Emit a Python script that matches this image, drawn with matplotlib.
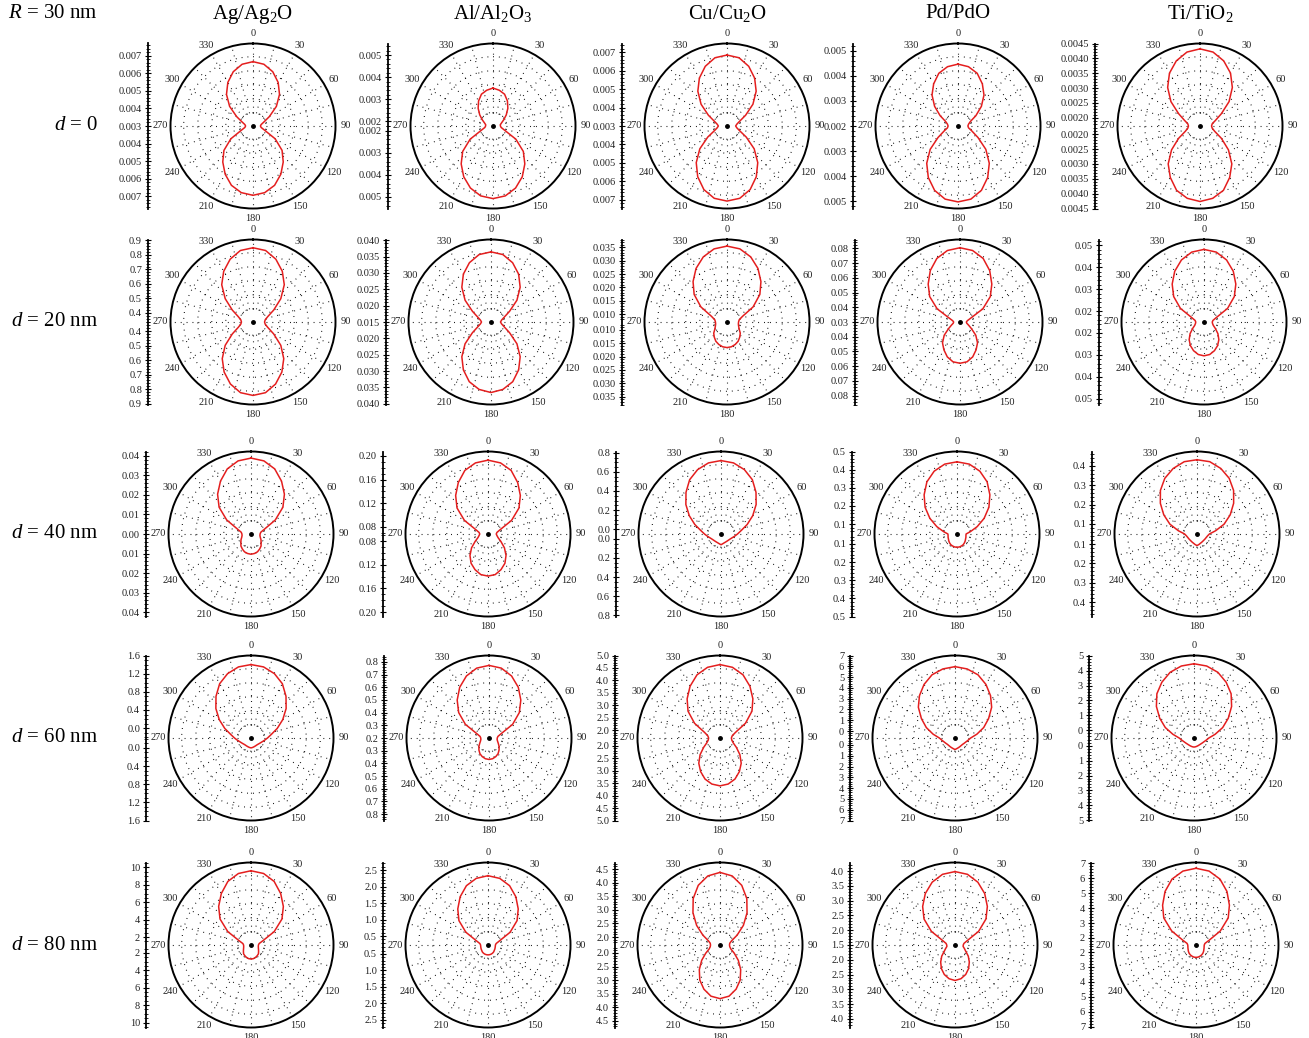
import numpy as np
import matplotlib
matplotlib.use("Agg")
import matplotlib.pyplot as plt

plt.rcParams['font.family'] = ['Liberation Serif', 'DejaVu Serif']
plt.rcParams['mathtext.fontset'] = 'custom'
plt.rcParams['mathtext.rm'] = 'Liberation Serif'
plt.rcParams['mathtext.it'] = 'Liberation Serif:italic'

W, H = 1309, 1038

materials = ['Ag/Ag$_2$O', 'Al/Al$_2$O$_3$', 'Cu/Cu$_2$O', 'Pd/PdO', 'Ti/TiO$_2$']
distances = ['0', '20 nm', '40 nm', '60 nm', '80 nm']

# sample angles (deg, 0 = up, clockwise); patterns are mirror symmetric so only 0..180 is stored
angles = np.arange(0, 190, 10)

# radial pattern as a fraction of the plot radius
ag_d0 = [.78, .76, .70, .61, .50, .37, .23, .14, .10, .09, .10, .15, .31, .46, .57, .675, .765, .82, .84]
al_d0 = [.46, .44, .41, .35, .28, .21, .15, .11, .09, .09, .10, .15, .32, .48, .60, .71, .80, .86, .88]
cu_d0 = [.86, .84, .77, .67, .55, .41, .26, .16, .12, .105, .12, .16, .27, .43, .58, .71, .82, .89, .91]
pd_d0 = [.75, .73, .68, .59, .49, .37, .25, .16, .13, .12, .13, .18, .28, .44, .59, .72, .83, .90, .92]
ti_d0 = [.935, .91, .84, .74, .61, .46, .30, .20, .15, .14, .15, .19, .30, .45, .60, .72, .83, .89, .915]

ag_d20 = [.90, .88, .81, .71, .59, .44, .29, .19, .15, .14, .15, .19, .29, .44, .58, .70, .80, .87, .89]
al_d20 = [.85, .83, .765, .67, .55, .41, .26, .17, .13, .115, .13, .17, .26, .41, .55, .67, .77, .83, .855]
cu_d20 = [.92, .90, .84, .75, .64, .52, .365, .20, .15, .14, .14, .15, .17, .21, .24, .27, .29, .305, .31]
pd_d20 = [.90, .88, .82, .72, .60, .48, .32, .14, .09, .077, .083, .11, .16, .25, .33, .39, .45, .49, .50]
ti_d20 = [.88, .86, .80, .71, .60, .48, .33, .16, .11, .10, .105, .12, .16, .22, .28, .33, .37, .40, .41]

ag_d40 = [.92, .90, .84, .74, .63, .505, .34, .175, .12, .11, .11, .12, .14, .16, .19, .21, .23, .24, .245]
al_d40 = [.895, .875, .82, .72, .61, .49, .33, .16, .11, .10, .11, .13, .18, .26, .34, .41, .46, .50, .51]
cu_d40 = [.89, .875, .83, .76, .66, .556, .444, .338, .25, .20, .165, .14, .125, .117, .113, .112, .114, .12, .13]
pd_d40 = [.875, .86, .81, .73, .62, .505, .38, .26, .165, .11, .11, .115, .12, .13, .14, .15, .155, .16, .16]
ti_d40 = [.90, .89, .845, .78, .69, .58, .465, .35, .23, .15, .13, .12, .115, .112, .112, .115, .12, .13, .14]

ag_d60 = [.89, .875, .83, .76, .66, .556, .444, .338, .25, .20, .165, .14, .125, .115, .11, .11, .112, .116, .12]
al_d60 = [.88, .86, .80, .71, .60, .48, .33, .16, .11, .10, .10, .11, .13, .16, .19, .22, .24, .255, .26]
cu_d60 = [.89, .87, .815, .725, .62, .506, .356, .20, .15, .138, .145, .17, .23, .315, .40, .47, .53, .567, .58]
pd_d60 = [.865, .85, .815, .75, .67, .58, .47, .37, .27, .19, .16, .14, .128, .12, .118, .12, .124, .13, .14]
ti_d60 = [.90, .886, .847, .78, .70, .595, .48, .37, .26, .18, .15, .13, .118, .11, .106, .105, .106, .108, .11]

ag_d80 = [.90, .88, .82, .72, .61, .49, .325, .155, .10, .09, .09, .095, .105, .12, .14, .15, .16, .168, .17]
al_d80 = [.84, .82, .765, .675, .57, .46, .31, .15, .10, .09, .09, .092, .096, .10, .108, .113, .117, .119, .12]
cu_d80 = [.88, .85, .77, .65, .51, .37, .24, .15, .12, .115, .12, .14, .20, .29, .39, .49, .57, .63, .65]
pd_d80 = [.89, .87, .81, .72, .61, .49, .33, .16, .11, .10, .10, .12, .15, .21, .27, .33, .38, .415, .43]
ti_d80 = [.93, .91, .85, .75, .63, .51, .34, .17, .11, .10, .10, .104, .11, .12, .13, .138, .144, .149, .15]

patterns = [
    [ag_d0, al_d0, cu_d0, pd_d0, ti_d0],
    [ag_d20, al_d20, cu_d20, pd_d20, ti_d20],
    [ag_d40, al_d40, cu_d40, pd_d40, ti_d40],
    [ag_d60, al_d60, cu_d60, pd_d60, ti_d60],
    [ag_d80, al_d80, cu_d80, pd_d80, ti_d80],
]

# side scale of each panel: lowest label, highest label, step, value at centre, value at rim, format
scale_d0 = [(0.003, 0.007, 0.001, 0.003, 0.00769, '%.3f'),
            (0.002, 0.005, 0.001, 0.00179, 0.00552, '%.3f'),
            (0.003, 0.007, 0.001, 0.003, 0.00748, '%.3f'),
            (0.002, 0.005, 0.001, 0.002, 0.00528, '%.3f'),
            (0.002, 0.0045, 0.0005, 0.00172, 0.0045, '%.4f')]
scale_d20 = [(0.4, 0.9, 0.1, 0.338, 0.906, '%.1f'),
             (0.015, 0.040, 0.005, 0.015, 0.0402, '%.3f'),
             (0.010, 0.035, 0.005, 0.007, 0.038, '%.3f'),
             (0.03, 0.08, 0.01, 0.03, 0.086, '%.2f'),
             (0.02, 0.05, 0.01, 0.015, 0.0527, '%.2f')]
scale_d40 = [(0.0, 0.04, 0.01, 0.0, 0.0423, '%.2f'),
             (0.08, 0.20, 0.04, 0.068, 0.2076, '%.2f'),
             (0.0, 0.8, 0.2, -0.05, 0.813, '%.1f'),
             (0.1, 0.5, 0.1, 0.045, 0.493, '%.1f'),
             (0.1, 0.4, 0.1, 0.048, 0.475, '%.1f')]
scale_d60 = [(0.0, 1.6, 0.4, -0.217, 1.6, '%.1f'),
             (0.2, 0.8, 0.1, 0.2, 0.851, '%.1f'),
             (2.0, 5.0, 0.5, 1.685, 5.0, '%.1f'),
             (0, 7, 1, -0.64, 7.0, '%d'),
             (0, 5, 1, -0.53, 5.03, '%d')]
scale_d80 = [(2, 10, 2, 1.086, 10.57, '%d'),
             (0.5, 2.5, 0.5, 0.229, 2.73, '%.1f'),
             (2.0, 4.5, 0.5, 1.708, 4.74, '%.1f'),
             (1.5, 4.0, 0.5, 1.5, 4.29, '%.1f'),
             (2, 7, 1, 1.53, 7.06, '%d')]
scales = [scale_d0, scale_d20, scale_d40, scale_d60, scale_d80]

# layout in pixels
row_y = [126, 322, 534, 738, 945]
col_x = [[253, 493, 727, 958, 1200],
         [253, 491, 727, 960, 1204],
         [251, 488, 721, 957, 1197],
         [251, 489, 720, 955, 1194],
         [251, 488, 720, 955, 1196]]
R = 82.5
ring_r = [0.16, 0.33, 0.5, 0.67, 0.84]
dots = (0, (0.8, 4.5))


def frac(x, y, w, h):
    return [x / W, 1 - (y + h) / H, w / W, h / H]


fig = plt.figure(figsize=(W / 100, H / 100), dpi=100)

theta_deg = np.concatenate([angles, 360 - angles[-2::-1]])
theta = np.deg2rad(theta_deg)
label_angles = np.arange(0, 360, 30)
ray_angles = np.deg2rad(np.arange(0, 360, 15))

for i in range(5):
    cy = row_y[i]
    for j in range(5):
        cx = col_x[i][j]

        ax = fig.add_axes(frac(cx - R, cy - R, 2 * R, 2 * R), projection='polar')
        ax.set_theta_zero_location('N')
        ax.set_theta_direction(-1)
        ax.set_ylim(0, 1)
        ax.set_thetagrids(label_angles, [str(a) for a in label_angles])
        ax.set_yticks(ring_r)
        ax.set_yticklabels([''] * len(ring_r))
        ax.yaxis.grid(True, color='k', lw=0.8, ls=dots)
        ax.xaxis.grid(False)
        # dotted rays start at the innermost ring
        for a in ray_angles:
            ax.plot([a, a], [ring_r[0], 1], color='k', lw=0.8, ls=dots, zorder=1)
        ax.tick_params(axis='x', length=0, pad=0.5, labelsize=7.5, colors='#222222')
        ax.spines['polar'].set_linewidth(1.4)

        r = np.array(patterns[i][j])
        rr = np.concatenate([r, r[-2::-1]])
        ax.plot(theta, rr, color='#e41e1e', lw=1.1, zorder=5)
        ax.plot([0], [0], 'o', color='k', ms=2.5, zorder=6)

        # side scale
        lo, hi, step, c, r_out, fmt = scales[i][j]
        ext = r_out - c
        sax = fig.add_axes(frac(cx - 105, cy - R, 1, 2 * R))
        sax.set_ylim(-ext, ext)
        for s in ['top', 'right', 'bottom']:
            sax.spines[s].set_visible(False)
        sax.spines['left'].set_linewidth(1.3)
        sax.patch.set_visible(False)
        sax.set_xticks([])

        major = np.arange(lo, hi + step / 2, step)
        pos, lab = [], []
        for v in major:
            pos.append(v - c)
            lab.append(fmt % v)
            if abs(v - c) > 1e-12:
                pos.append(-(v - c))
                lab.append(fmt % v)
        sax.set_yticks(pos, lab)

        lead = round(step / 10 ** np.floor(np.log10(step)))
        nsub = 4 if lead in (2, 4) else 5
        ms = step / nsub
        k = np.arange(np.ceil(c / ms - 1e-9), np.floor(r_out / ms + 1e-9) + 1) * ms
        minor = [v for v in k if np.min(np.abs(v - major)) > ms / 10 and v - c > 1e-12]
        sax.set_yticks([v - c for v in minor] + [c - v for v in minor], minor=True)
        sax.tick_params(axis='y', which='major', direction='inout', length=4.5,
                        width=0.8, labelsize=7.5, pad=2, labelcolor='#222222')
        sax.tick_params(axis='y', which='minor', direction='inout', length=2.5, width=0.6)

    fig.text(98 / W, 1 - cy / H, '$d$ = ' + distances[i], ha='right', va='center', fontsize=15)

for j in range(5):
    fig.text(col_x[0][j] / W, 1 - 14 / H, materials[j], ha='center', va='center', fontsize=15)
fig.text(8 / W, 1 - 14 / H, '$R$ = 30 nm', ha='left', va='center', fontsize=15)

fig.savefig('out.png', dpi=100)
